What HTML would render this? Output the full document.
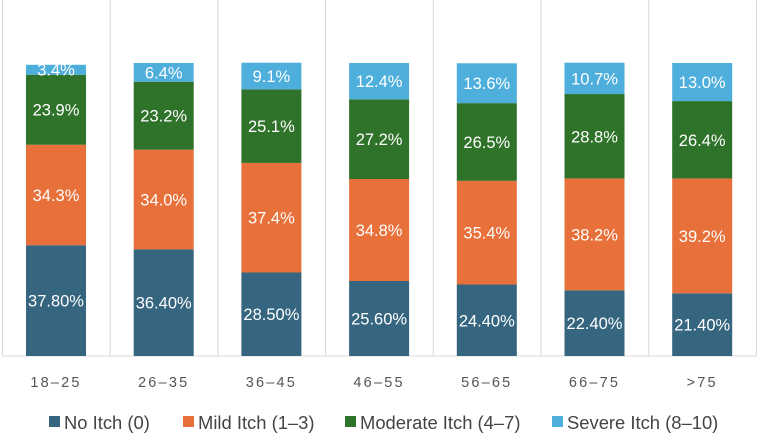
<!DOCTYPE html>
<html><head><meta charset="utf-8"><style>
body{margin:0;background:#fff;font-family:"Liberation Sans",sans-serif}
</style></head><body>
<svg id="c" width="759" height="437" xmlns="http://www.w3.org/2000/svg"></svg>
<script>
const categories=["18–25","26–35","36–45","46–55","56–65","66–75",">75"];
const noItch=[37.8,36.4,28.5,25.6,24.4,22.4,21.4];
const mildItch=[34.3,34.0,37.4,34.8,35.4,38.2,39.2];
const moderateItch=[23.9,23.2,25.1,27.2,26.5,28.8,26.4];
const severeItch=[3.4,6.4,9.1,12.4,13.6,10.7,13.0];
const noLabels=["37.80%","36.40%","28.50%","25.60%","24.40%","22.40%","21.40%"];
const seriesNames=["No Itch (0)","Mild Itch (1–3)","Moderate Itch (4–7)","Severe Itch (8–10)"];
const colors=["#35657f","#e8703a","#2f7229","#4fafdc"];
const NS="http://www.w3.org/2000/svg";
const svg=document.getElementById('c');
const x0=2.5,cw=107.7,bw=60,y0=356,k=2.93;
const xs=i=>x0+cw*i;
const ys=v=>y0-v*k;
function el(t,a,p){const e=document.createElementNS(NS,t);for(const q in a)e.setAttribute(q,a[q]);(p||svg).appendChild(e);return e;}
for(let i=0;i<=categories.length;i++){
  const g=el('line',{x1:xs(i),x2:xs(i),y1:0,y2:y0,stroke:'#d9d9d9','stroke-width':1});
  
  
}
const ax=el('line',{x1:xs(0),x2:xs(categories.length),y1:y0,y2:y0,stroke:'#d9d9d9'});


const series=[noItch,mildItch,moderateItch,severeItch];
const keys=["no-itch","mild-itch","moderate-itch","severe-itch"];
categories.forEach((c,i)=>{
  let cum=0;const bx=xs(i)+23.5;
  series.forEach((s,j)=>{
    const v=s[i];const yt=ys(cum+v),yb=ys(cum);
    const r=el('rect',{x:bx,y:yt,width:bw,height:yb-yt,fill:colors[j]});
    
    
    const t=el('text',{x:bx+bw/2,y:(yt+yb)/2+6,'text-anchor':'middle',fill:'#fff','font-size':16.5});
    t.textContent=j==0?noLabels[i]:v.toFixed(1)+'%';
    
    
    cum+=v;
  });
  const l=el('text',{x:bx+bw/2,y:387,'text-anchor':'middle',fill:'#555','font-size':14.5,'letter-spacing':'2.2'});
  l.textContent=c;
  
  
});
const lx=[49,183,345,552];
seriesNames.forEach((n,j)=>{
  const g=el('g',{});
  
  
  el('rect',{x:lx[j],y:416,width:11,height:11,fill:colors[j]},g);
  const t=el('text',{x:lx[j]+15,y:429,fill:'#444','font-size':18.4},g);
  t.textContent=n;
});
</script>
</body></html>
